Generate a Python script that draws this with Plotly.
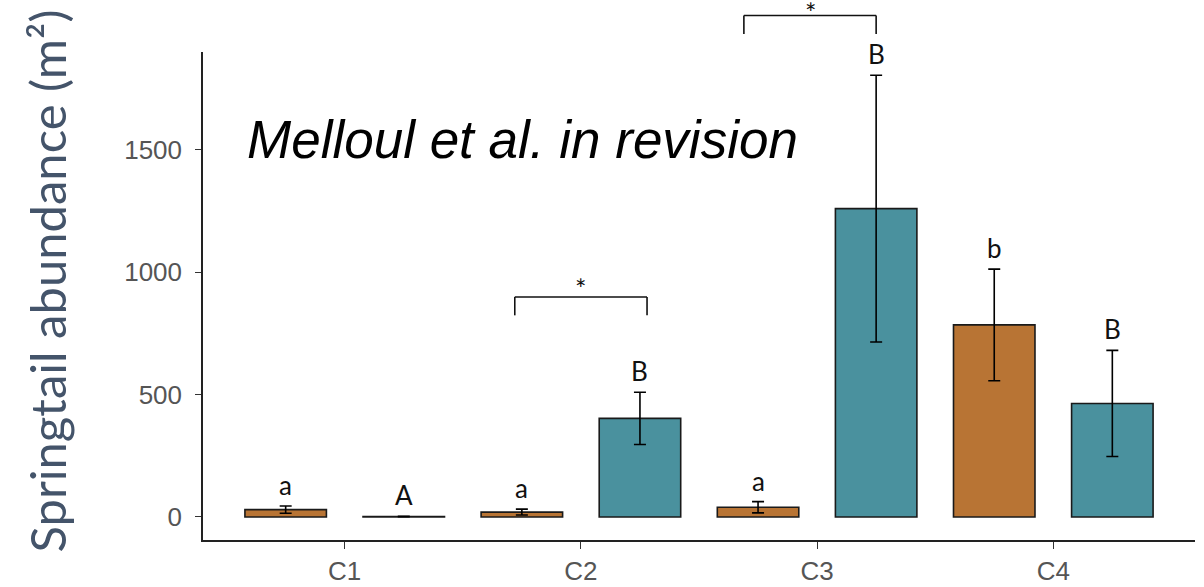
import plotly.graph_objects as go

# ---- data ----
categories = ["C1", "C2", "C3", "C4"]
orange_mean = [30, 20, 40, 785]
orange_err = [15, 12, 23, 228]
teal_mean = [2, 403, 1260, 464]
teal_err = [1, 107, 545, 217]
orange_letters = ["a", "a", "a", "b"]
teal_letters = ["A", "B", "B", "B"]
y_ticks = [0, 500, 1000, 1500]

ORANGE = "#B87434"
TEAL = "#4A919E"
Y_RANGE = [-94, 1900]

# significance brackets: (category index, left offset, right offset, top value, leg-end value, star shift)
brackets = [(1, -0.28, 0.28, 899, 824, -10), (2, -0.31, 0.25, 2049, 1974, -15)]

fig = go.Figure()
err_style = dict(type="data", color="black", thickness=1.6, width=6)
fig.add_bar(x=categories, y=orange_mean, name="orange",
            error_y=dict(array=orange_err, **err_style),
            marker=dict(color=ORANGE, line=dict(color="#1a1a1a", width=1.6)))
fig.add_bar(x=categories, y=teal_mean, name="teal",
            error_y=dict(array=teal_err, **err_style),
            marker=dict(color=TEAL, line=dict(color="#1a1a1a", width=1.6)))

annotations = []
letter_font = dict(family="Lato, Noto Sans, sans-serif", size=26, color="#111111")
for i in range(len(categories)):
    annotations.append(dict(x=i - 0.25, y=orange_mean[i] + orange_err[i], xref="x", yref="y",
                            text=orange_letters[i], showarrow=False, yanchor="bottom",
                            yshift=3, font=letter_font))
    annotations.append(dict(x=i + 0.25, y=teal_mean[i] + teal_err[i], xref="x", yref="y",
                            text=teal_letters[i], showarrow=False, yanchor="bottom",
                            yshift=3, font=letter_font))


def to_paper(v):
    return (v - Y_RANGE[0]) / (Y_RANGE[1] - Y_RANGE[0])


shapes = []
line = dict(color="#111111", width=1.6)
for ci, lo, hi, top, leg, shift in brackets:
    x0, x1 = ci + lo, ci + hi
    yt, yl = to_paper(top), to_paper(leg)
    shapes.append(dict(type="line", xref="x", yref="paper", x0=x0, x1=x1, y0=yt, y1=yt, line=line))
    shapes.append(dict(type="line", xref="x", yref="paper", x0=x0, x1=x0, y0=yt, y1=yl, line=line))
    shapes.append(dict(type="line", xref="x", yref="paper", x0=x1, x1=x1, y0=yt, y1=yl, line=line))
    annotations.append(dict(x=(x0 + x1) / 2, y=yt, xref="x", yref="paper", text="*",
                            showarrow=False, yanchor="bottom", yshift=shift,
                            font=dict(family="Lato, sans-serif", size=27, color="#111111")))

annotations.append(dict(x=0.042, y=0.82, xref="paper", yref="paper", xanchor="left",
                        yanchor="middle", text="<i>Melloul et al. in revision</i>",
                        showarrow=False,
                        font=dict(family="Liberation Sans, Arial, sans-serif", size=53, color="black")))
annotations.append(dict(x=-0.157, y=0.53, xref="paper", yref="paper", xanchor="center",
                        yanchor="middle", textangle=-90, text="Springtail abundance (m²)",
                        showarrow=False,
                        font=dict(family="Lato, sans-serif", size=49, color="#44546A")))

tick_font = dict(family="Liberation Sans, Arial, sans-serif", size=26, color="#555555")
fig.update_layout(
    width=1204, height=587,
    margin=dict(l=203, r=9, t=52, b=47, autoexpand=False),
    plot_bgcolor="white", paper_bgcolor="white",
    showlegend=False,
    barmode="group", bargap=0, bargroupgap=0.31,
    shapes=shapes, annotations=annotations,
    xaxis=dict(type="category", range=[-0.6, 3.6], showline=True, linecolor="#222222",
               linewidth=1.5, ticks="outside", ticklen=7, tickcolor="#333333",
               tickfont=tick_font, showgrid=False, zeroline=False, automargin=False,
               ticklabelstandoff=0),
    yaxis=dict(range=Y_RANGE, tickvals=y_ticks, showline=True, linecolor="#222222",
               linewidth=1.5, ticks="outside", ticklen=6, tickcolor="#333333",
               tickfont=tick_font, showgrid=False, zeroline=False, automargin=False,
               ticklabelstandoff=8),
)

fig.write_html("out.html")
